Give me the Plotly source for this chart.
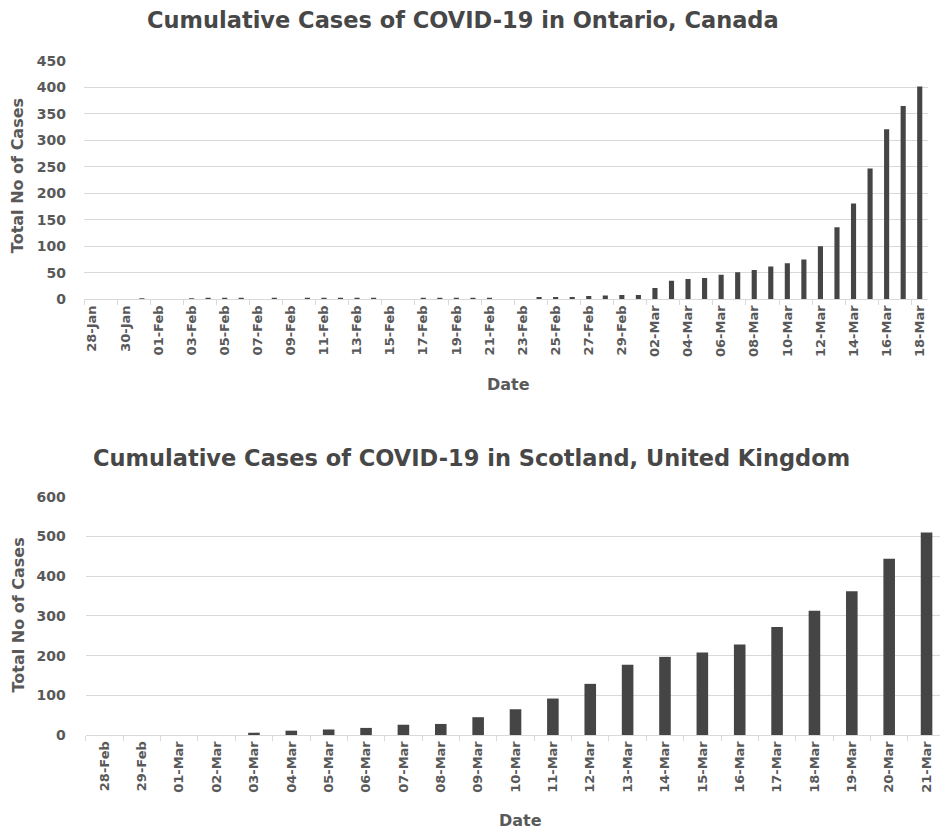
import plotly.graph_objects as go

# ---------------- data ----------------
ontario_dates = [
    "28-Jan", "29-Jan", "30-Jan", "31-Jan",
    "01-Feb", "02-Feb", "03-Feb", "04-Feb", "05-Feb", "06-Feb", "07-Feb", "08-Feb",
    "09-Feb", "10-Feb", "11-Feb", "12-Feb", "13-Feb", "14-Feb", "15-Feb", "16-Feb",
    "17-Feb", "18-Feb", "19-Feb", "20-Feb", "21-Feb", "22-Feb", "23-Feb", "24-Feb",
    "25-Feb", "26-Feb", "27-Feb", "28-Feb", "29-Feb",
    "01-Mar", "02-Mar", "03-Mar", "04-Mar", "05-Mar", "06-Mar", "07-Mar", "08-Mar",
    "09-Mar", "10-Mar", "11-Mar", "12-Mar", "13-Mar", "14-Mar", "15-Mar", "16-Mar",
    "17-Mar", "18-Mar",
]
ontario_cases = [
    0, 0, 0, 2,
    0, 0, 2, 3, 3, 3, 0, 3,
    0, 3, 3, 3, 3, 3, 0, 0,
    3, 3, 3, 3, 3, 0, 0, 4,
    4, 4, 6, 7, 8,
    8, 21, 35, 38, 40, 46, 51, 55,
    62, 68, 75, 100, 136, 181, 247, 321,
    365, 402,
]

scotland_dates = [
    "28-Feb", "29-Feb", "01-Mar", "02-Mar", "03-Mar", "04-Mar", "05-Mar", "06-Mar",
    "07-Mar", "08-Mar", "09-Mar", "10-Mar", "11-Mar", "12-Mar", "13-Mar", "14-Mar",
    "15-Mar", "16-Mar", "17-Mar", "18-Mar", "19-Mar", "20-Mar", "21-Mar",
]
scotland_cases = [
    0, 0, 0, 0, 6, 11, 14, 18,
    26, 28, 45, 65, 92, 129, 177, 197,
    208, 228, 272, 313, 362, 444, 510,
]

title_top = "Cumulative Cases of COVID-19 in Ontario, Canada"
title_bottom = "Cumulative Cases of COVID-19 in Scotland, United Kingdom"
y_title = "Total No of Cases"
x_title = "Date"

# ---------------- style ----------------
W, H = 940, 831
BAR = "#454545"
GRID = "#d9d9d9"
TXT = "#595959"
TITLE = "#474747"
FONT = "DejaVu Sans"

fig = go.Figure()
fig.add_trace(go.Bar(x=ontario_dates, y=ontario_cases, marker_color=BAR,
                     marker_line_width=0, xaxis="x", yaxis="y"))
fig.add_trace(go.Bar(x=scotland_dates, y=scotland_cases, marker_color=BAR,
                     marker_line_width=0, xaxis="x2", yaxis="y2"))

def py(p):  # target pixel y -> paper (compensating page capture offset)
    return 1 - ((p - 8) / 0.98) / H

def px(p):
    return p / W

tickfont = dict(family=FONT, size=13, color=TXT, weight="bold")

common_x = dict(type="category", showgrid=False, showline=True, linecolor=GRID,
                linewidth=1, ticks="outside", tickson="boundaries", ticklen=5,
                tickcolor=GRID, tickangle=-90, tickfont=tickfont, fixedrange=True)
common_y = dict(showgrid=True, gridcolor=GRID, gridwidth=1, zeroline=False,
                showline=False, ticks="", tickfont=dict(tickfont, size=14),
                fixedrange=True)

fig.update_layout(
    width=W, height=H,
    margin=dict(l=0, r=0, t=0, b=0),
    paper_bgcolor="white", plot_bgcolor="white",
    showlegend=False, bargap=0.69,
    xaxis=dict(common_x, domain=[px(84), px(928)], range=[-0.5, 50.5],
               dtick=2, anchor="y"),
    yaxis=dict(common_y, domain=[py(299), py(61)], range=[0, 450], dtick=50,
               anchor="x", ticklabelstandoff=17),
    xaxis2=dict(common_x, domain=[px(85.8), 1.0], range=[-0.5, 22.36],
                dtick=1, anchor="y2"),
    yaxis2=dict(common_y, domain=[py(734.5), py(496.5)], range=[0, 600], dtick=100,
                anchor="x2", ticklabelstandoff=19),
)

ann = []
ann.append(dict(text=title_top, x=px(463), y=py(20), xref="paper", yref="paper",
                showarrow=False, xanchor="center", yanchor="middle",
                font=dict(family=FONT, size=22.5, color=TITLE, weight="bold")))
ann.append(dict(text=title_bottom, x=px(472), y=py(458), xref="paper", yref="paper",
                showarrow=False, xanchor="center", yanchor="middle",
                font=dict(family=FONT, size=22.5, color=TITLE, weight="bold")))
for (xx, yy) in [(17, 176), (18, 615)]:
    ann.append(dict(text=y_title, x=px(xx), y=py(yy), xref="paper", yref="paper",
                    showarrow=False, textangle=-90, xanchor="center", yanchor="middle",
                    font=dict(family=FONT, size=16, color=TXT, weight="bold")))
for (xx, yy) in [(508, 384), (520, 820)]:
    ann.append(dict(text=x_title, x=px(xx), y=py(yy), xref="paper", yref="paper",
                    showarrow=False, xanchor="center", yanchor="middle",
                    font=dict(family=FONT, size=16, color=TXT, weight="bold")))
fig.update_layout(annotations=ann)

fig.write_html(
    "out.html",
    config={"displayModeBar": False, "staticPlot": True},
    post_script=(
        "document.documentElement.style.margin='0px';"
        "document.documentElement.style.overflow='hidden';"
        "document.body.style.margin='0px';"
        "document.body.style.overflow='hidden';"
        "var gd=document.getElementsByClassName('plotly-graph-div')[0];"
        "gd.style.position='fixed';gd.style.top='0px';gd.style.left='0px';"
    ),
)
